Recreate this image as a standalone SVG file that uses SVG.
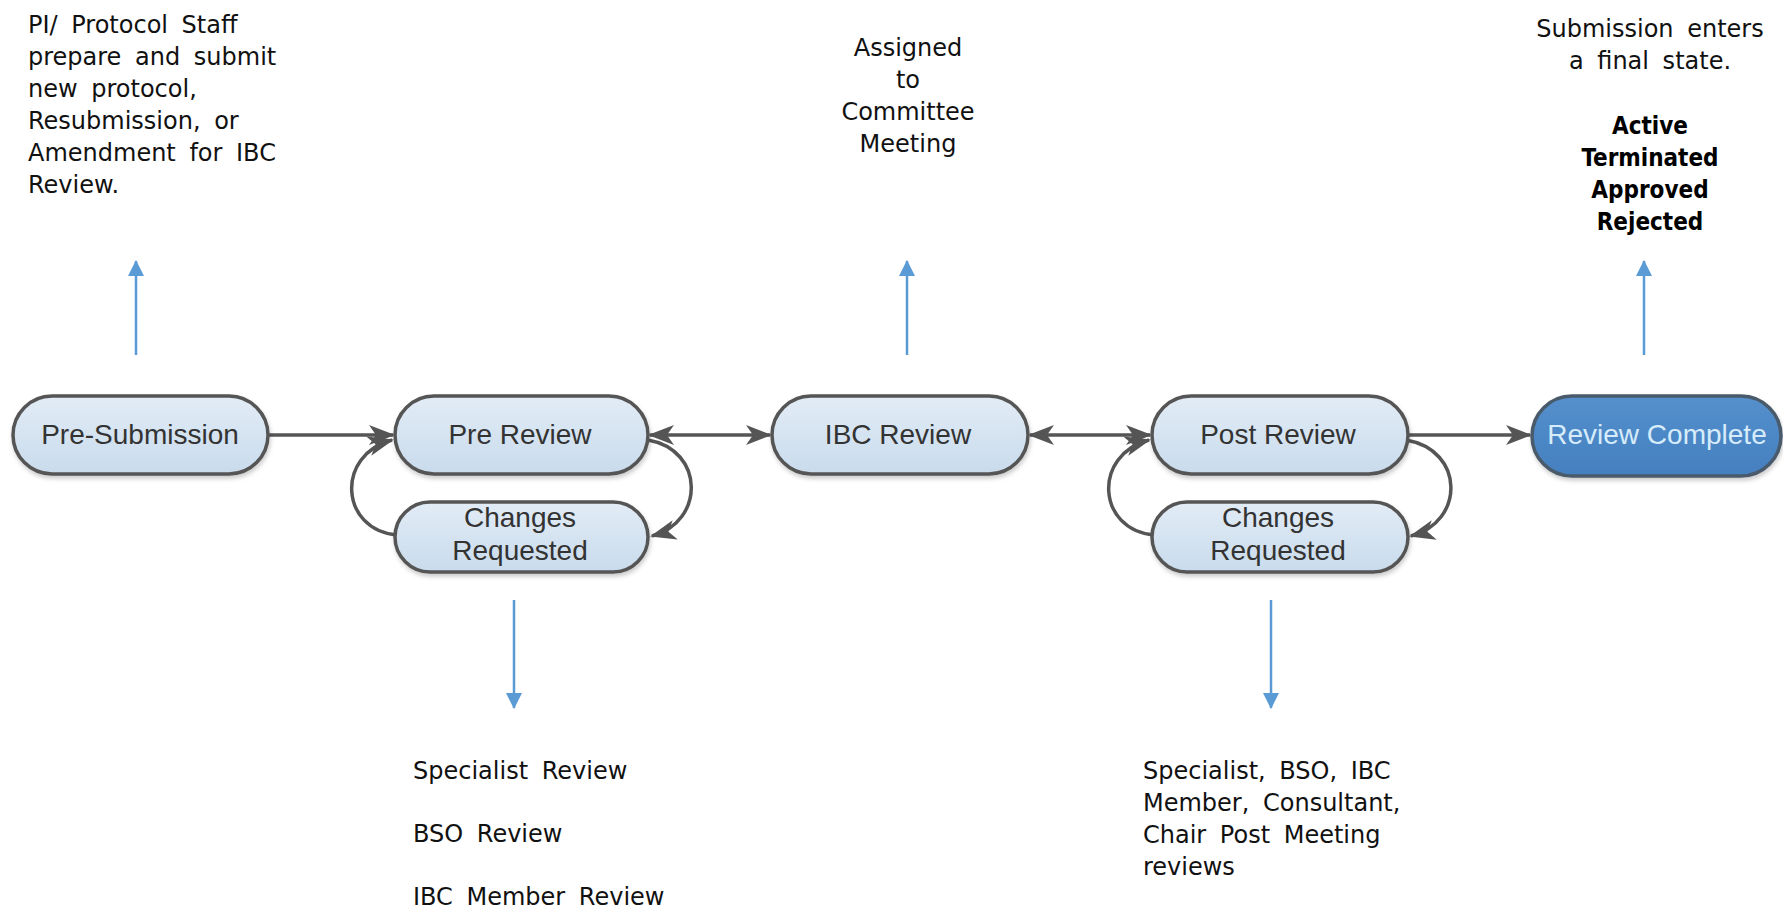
<svg xmlns="http://www.w3.org/2000/svg" width="1783" height="910" viewBox="0 0 1783 910">
<defs>
<linearGradient id="pillGrad" x1="0" y1="0" x2="0" y2="1">
<stop offset="0" stop-color="#e2ecf6"/>
<stop offset="1" stop-color="#c9dbec"/>
</linearGradient>
<linearGradient id="doneGrad" x1="0" y1="0" x2="0" y2="1">
<stop offset="0" stop-color="#5590cd"/>
<stop offset="1" stop-color="#447fbf"/>
</linearGradient>
<filter id="shadow" x="-10%" y="-20%" width="120%" height="150%">
<feDropShadow dx="1" dy="3" stdDeviation="2" flood-color="#000" flood-opacity="0.2"/>
</filter>
<marker id="grayHead" markerUnits="userSpaceOnUse" markerWidth="28" markerHeight="22" refX="24" refY="11" orient="auto-start-reverse">
<path d="M0,1 L26,11 L0,21 L7,11 z" fill="#555"/>
</marker>
<marker id="blueHead" markerUnits="userSpaceOnUse" markerWidth="16" markerHeight="16" refX="15" refY="8" orient="auto">
<path d="M0,0 L16,8 L0,16 z" fill="#5b9bd5"/>
</marker>
</defs>
<style>
.pill{fill:url(#pillGrad);stroke:#555;stroke-width:3.5;filter:url(#shadow)}
.done{fill:url(#doneGrad);stroke:#4a5a6a;stroke-width:3.5;filter:url(#shadow)}
.ptxt{font-family:"Liberation Sans",Arial,sans-serif;font-size:28px;fill:#333;text-anchor:middle}
.dtxt{font-family:"Liberation Sans",Arial,sans-serif;font-size:28px;fill:#d6ecfa;text-anchor:middle}
.conn{fill:none;stroke:#555;stroke-width:3.5}
.blue{fill:none;stroke:#5b9bd5;stroke-width:2.5}
.note{font-family:"DejaVu Sans",sans-serif;font-size:24px;fill:#111;word-spacing:6px}
.notec{font-family:"DejaVu Sans",sans-serif;font-size:24px;fill:#111;text-anchor:middle;word-spacing:6px}
.bold{font-family:"DejaVu Sans Condensed","DejaVu Sans",sans-serif;font-size:24px;fill:#000;text-anchor:middle;font-weight:bold}
</style>
<rect width="1783" height="910" fill="#fff"/>

<g id="connectors">
<line class="conn" x1="268" y1="435" x2="393" y2="435" marker-end="url(#grayHead)"/>
<line class="conn" x1="650" y1="435" x2="770" y2="435" marker-start="url(#grayHead)" marker-end="url(#grayHead)"/>
<line class="conn" x1="1030" y1="435" x2="1150" y2="435" marker-start="url(#grayHead)" marker-end="url(#grayHead)"/>
<line class="conn" x1="1408" y1="435" x2="1530" y2="435" marker-end="url(#grayHead)"/>
<path class="conn" d="M397,535 C340,530 335,455 392,440" marker-end="url(#grayHead)"/>
<path class="conn" d="M648,440 C705,450 705,522 652,536" marker-end="url(#grayHead)"/>
<path class="conn" d="M1154,535 C1097,530 1092,455 1149,440" marker-end="url(#grayHead)"/>
<path class="conn" d="M1406,440 C1465,450 1465,522 1411,536" marker-end="url(#grayHead)"/>
<line class="blue" x1="136" y1="355" x2="136" y2="261" marker-end="url(#blueHead)"/>
<line class="blue" x1="907" y1="355" x2="907" y2="261" marker-end="url(#blueHead)"/>
<line class="blue" x1="1644" y1="355" x2="1644" y2="261" marker-end="url(#blueHead)"/>
<line class="blue" x1="514" y1="600" x2="514" y2="708" marker-end="url(#blueHead)"/>
<line class="blue" x1="1271" y1="600" x2="1271" y2="708" marker-end="url(#blueHead)"/>
</g>

<g id="pre-submission">
<rect class="pill" x="13" y="396" width="255" height="78" rx="39"/>
<text class="ptxt" x="140" y="444">Pre-Submission</text>
</g>
<g id="pre-review">
<rect class="pill" x="395" y="396" width="253" height="78" rx="39"/>
<text class="ptxt" x="520" y="444">Pre Review</text>
</g>
<g id="pre-changes">
<rect class="pill" x="395" y="502" width="253" height="70" rx="35"/>
<text class="ptxt" x="520" y="527">Changes</text>
<text class="ptxt" x="520" y="560">Requested</text>
</g>
<g id="ibc-review">
<rect class="pill" x="772" y="396" width="256" height="78" rx="39"/>
<text class="ptxt" x="898" y="444">IBC Review</text>
</g>
<g id="post-review">
<rect class="pill" x="1152" y="396" width="256" height="78" rx="39"/>
<text class="ptxt" x="1278" y="444">Post Review</text>
</g>
<g id="post-changes">
<rect class="pill" x="1152" y="502" width="256" height="70" rx="35"/>
<text class="ptxt" x="1278" y="527">Changes</text>
<text class="ptxt" x="1278" y="560">Requested</text>
</g>
<g id="review-complete">
<rect class="done" x="1532" y="396" width="249" height="80" rx="40"/>
<text class="dtxt" x="1657" y="444">Review Complete</text>
</g>

<g id="note-submit">
<text class="note" x="28" y="33">PI/ Protocol Staff</text>
<text class="note" x="28" y="65" word-spacing="12">prepare and submit</text>
<text class="note" x="28" y="97">new protocol,</text>
<text class="note" x="28" y="129">Resubmission, or</text>
<text class="note" x="28" y="161">Amendment for IBC</text>
<text class="note" x="28" y="193">Review.</text>
</g>
<g id="note-assigned">
<text class="notec" x="908" y="56">Assigned</text>
<text class="notec" x="908" y="88">to</text>
<text class="notec" x="908" y="120">Committee</text>
<text class="notec" x="908" y="152">Meeting</text>
</g>
<g id="note-final">
<text class="notec" x="1650" y="37">Submission enters</text>
<text class="notec" x="1650" y="69">a final state.</text>
<text class="bold" x="1650" y="134">Active</text>
<text class="bold" x="1650" y="166">Terminated</text>
<text class="bold" x="1650" y="198">Approved</text>
<text class="bold" x="1650" y="230">Rejected</text>
</g>
<g id="note-pre">
<text class="note" x="413" y="779">Specialist Review</text>
<text class="note" x="413" y="842">BSO Review</text>
<text class="note" x="413" y="905">IBC Member Review</text>
</g>
<g id="note-post">
<text class="note" x="1143" y="779">Specialist, BSO, IBC</text>
<text class="note" x="1143" y="811">Member, Consultant,</text>
<text class="note" x="1143" y="843">Chair Post Meeting</text>
<text class="note" x="1143" y="875">reviews</text>
</g>
</svg>
